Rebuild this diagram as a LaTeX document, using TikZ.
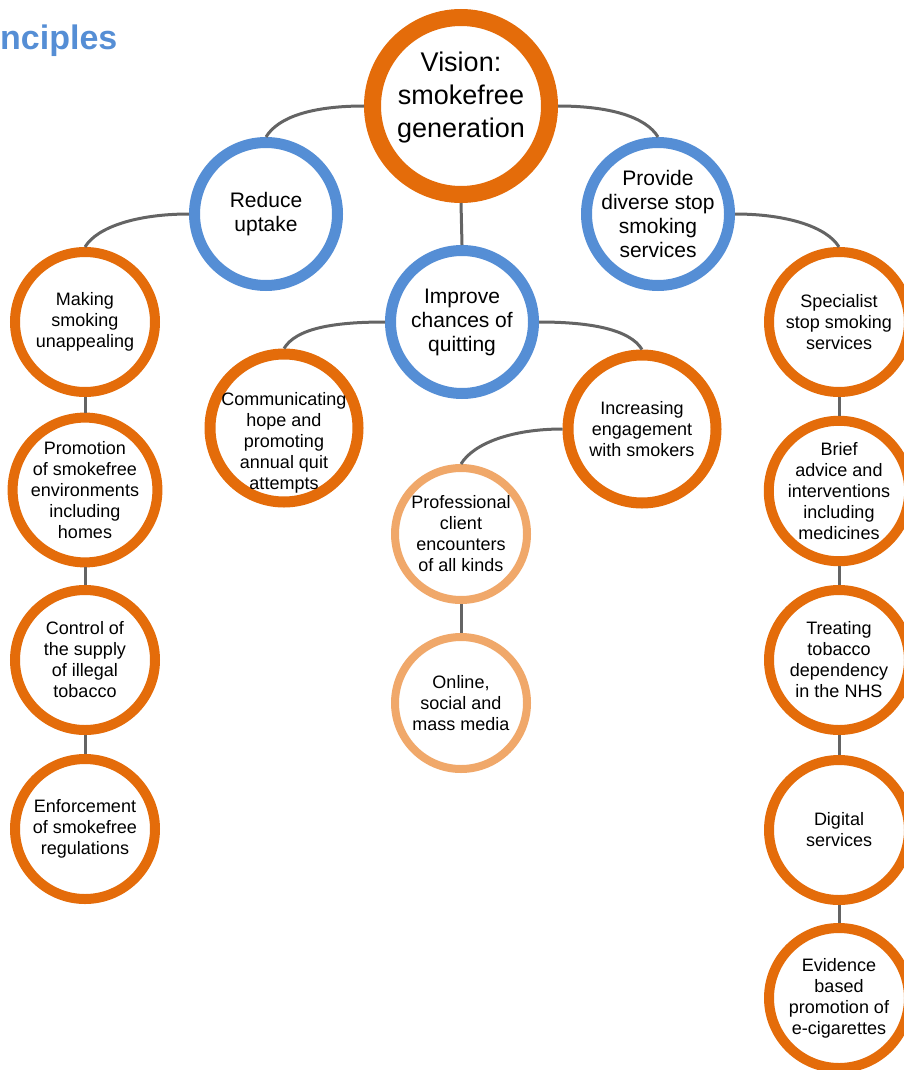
\documentclass[tikz,border=0pt]{standalone}
\usepackage{fontspec}
\setmainfont{Liberation Sans}
\definecolor{orng}{RGB}{228,108,10}
\definecolor{lightorng}{RGB}{240,168,106}
\definecolor{bluec}{RGB}{85,142,213}
\definecolor{linegray}{RGB}{100,100,100}
\begin{document}
\begin{tikzpicture}[x=1pt,y=-1pt,
  conn/.style={draw=linegray, line width=3pt},
  basenode/.style={circle, fill=white, align=center, inner sep=0pt, text=black},
  visnode/.style={basenode, draw=orng, line width=17pt, minimum size=177pt},
  visfont/.style={font=\fontsize{27}{33}\selectfont},
  bluenode/.style={basenode, draw=bluec, line width=11pt, minimum size=143pt, font=\fontsize{21}{24}\selectfont},
  orngnode/.style={basenode, draw=orng, line width=10pt, minimum size=140pt, font=\fontsize{18}{21}\selectfont},
  bigorng/.style={basenode, draw=orng, line width=11pt, minimum size=148pt, font=\fontsize{18}{21}\selectfont},
  lightnode/.style={basenode, draw=lightorng, line width=8pt, minimum size=132pt, font=\fontsize{18}{21}\selectfont},
  smallfont/.style={align=center, text=black, font=\fontsize{18}{21}\selectfont}
]
\useasboundingbox (0,0) rectangle (904,1070);
\clip (0,0) rectangle (904,1070);

\node[anchor=base west, inner sep=0pt, text=bluec, font=\fontsize{34}{40}\selectfont\bfseries] (title) at (0,50) {nciples};

% circles
\node[visnode] (vision) at (461,106) {};
\node[bluenode] (reduce) at (266,214) {Reduce\\uptake};
\node[bluenode] (provide) at (658,214) {Provide\\diverse stop\\smoking\\services};
\node[bluenode] (improve) at (462,322) {Improve\\chances of\\quitting};

\node[orngnode] (making) at (85,322) {Making\\smoking\\unappealing};
\node[orngnode] (promotion) at (85,490) {Promotion\\of smokefree\\environments\\including\\homes};
\node[orngnode] (control) at (85,660) {Control of\\the supply\\of illegal\\tobacco};
\node[orngnode] (enforce) at (85,829) {Enforcement\\of smokefree\\regulations};

\node[bigorng] (comm) at (284,428) {};
\node[bigorng] (increasing) at (642,429) {Increasing\\engagement\\with smokers};
\node[lightnode] (professional) at (461,534) {Professional\\client\\encounters\\of all kinds};
\node[lightnode] (online) at (461,703) {Online,\\social and\\mass media};

\node[orngnode] (specialist) at (839,322) {Specialist\\stop smoking\\services};
\node[orngnode] (brief) at (839,491) {Brief\\advice and\\interventions\\including\\medicines};
\node[orngnode] (treating) at (839,660) {Treating\\tobacco\\dependency\\in the NHS};
\node[orngnode] (digital) at (839,830) {Digital\\services};
\node[orngnode] (evidence) at (839,998) {Evidence\\based\\promotion of\\e-cigarettes};

% texts placed off-centre
\node[visfont, align=center, text=black] (visiontext) at (461,98) {Vision:\\smokefree\\generation};
\node[smallfont] (commtext) at (284,443) {Communicating\\hope and\\promoting\\annual quit\\attempts};

% connectors
\draw[conn] (vision.west) .. controls +(-52,0) and +(12,-20) .. (reduce.north);
\draw[conn] (vision.east) .. controls +(52,0) and +(-12,-20) .. (provide.north);
\draw[conn] (vision.south) -- (improve.north);
\draw[conn] (reduce.west) .. controls +(-52,0) and +(12,-20) .. (making.north);
\draw[conn] (provide.east) .. controls +(52,0) and +(-12,-20) .. (specialist.north);
\draw[conn] (improve.west) .. controls +(-52,0) and +(12,-20) .. (comm.north);
\draw[conn] (improve.east) .. controls +(52,0) and +(-12,-20) .. (increasing.north);
\draw[conn] (increasing.west) .. controls +(-52,0) and +(12,-20) .. (professional.north);
\draw[conn] (professional.south) -- (online.north);
\draw[conn] (making.south) -- (promotion.north);
\draw[conn] (promotion.south) -- (control.north);
\draw[conn] (control.south) -- (enforce.north);
\draw[conn] (specialist.south) -- (brief.north);
\draw[conn] (brief.south) -- (treating.north);
\draw[conn] (treating.south) -- (digital.north);
\draw[conn] (digital.south) -- (evidence.north);
\end{tikzpicture}
\end{document}
